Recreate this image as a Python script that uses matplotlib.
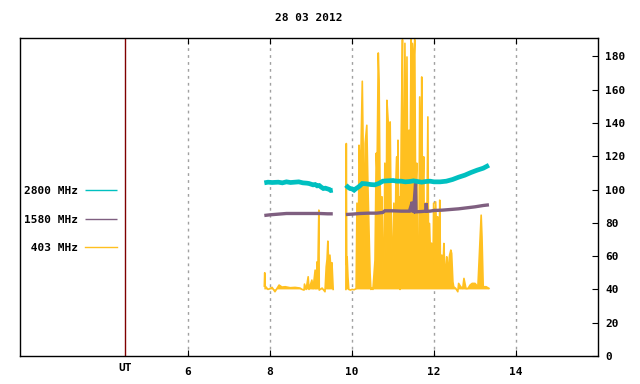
import matplotlib
matplotlib.use("Agg")
import matplotlib.pyplot as plt
import matplotlib.transforms as mtransforms
import numpy as np

# time in hours UT, nan marks the data gap
t_2800 = [7.86, 7.95, 8.05, 8.2, 8.3, 8.4, 8.5, 8.6, 8.7, 8.8, 8.9, 8.95, 9.05, 9.1, 9.15, 9.2, 9.25, 9.3, 9.35, 9.4, 9.45, 9.48, 9.53,
          9.7,
          9.85, 9.9, 9.95, 10.0, 10.05, 10.1, 10.15, 10.2, 10.25, 10.35, 10.45, 10.55, 10.65, 10.75, 10.85, 11.0, 11.1, 11.2,
          11.3, 11.4, 11.5, 11.6, 11.7, 11.8, 11.9, 12.0, 12.15, 12.3, 12.45, 12.6, 12.75, 12.9, 13.05, 13.2, 13.34]
v_2800 = [104.0, 104.4, 104.2, 104.4, 104.0, 104.6, 104.2, 104.4, 104.6, 104.0, 103.8, 103.6, 102.8, 103.0, 102.2, 102.4, 101.4, 100.6, 100.8, 100.4, 100.0, 99.4, 99.6,
          np.nan,
          102.6, 101.4, 100.6, 100.4, 99.6, 100.6, 101.4, 102.4, 103.6, 103.4, 103.0, 102.8, 103.6, 105.0, 105.2, 105.4, 105.0, 105.0,
          104.6, 104.8, 105.2, 104.8, 104.4, 104.8, 105.0, 104.6, 104.6, 105.0, 106.0, 107.4, 108.6, 110.2, 111.6, 112.8, 114.6]

t_1580 = [7.86, 8.0, 8.2, 8.4, 8.6, 8.8, 9.0, 9.2, 9.4, 9.53,
          9.7,
          9.85, 10.0, 10.2, 10.4, 10.6, 10.75, 10.8, 11.0, 11.2, 11.4, 11.47, 11.48, 11.5, 11.55, 11.56, 11.57, 11.7, 11.8, 11.81,
          11.82, 11.9, 12.0, 12.2, 12.4, 12.6, 12.8, 13.0, 13.2, 13.34]
v_1580 = [84.4, 84.8, 85.2, 85.6, 85.6, 85.6, 85.6, 85.6, 85.4, 85.4,
          np.nan,
          85.0, 85.2, 85.6, 85.8, 85.8, 86.2, 87.2, 87.2, 87.0, 87.0, 92.6, 87.0, 86.8, 103.8, 86.6, 86.6, 86.8, 87.0, 91.8,
          87.0, 87.0, 87.4, 87.6, 88.0, 88.4, 89.0, 89.6, 90.4, 90.8]

t_403 = [7.86, 7.87, 7.88, 7.95, 8.05, 8.12, 8.22, 8.29, 8.37, 8.49, 8.61, 8.73, 8.78, 8.83, 8.84, 8.88, 8.93, 8.95, 9.02, 9.05,
         9.1, 9.12, 9.15, 9.16, 9.19, 9.2, 9.27, 9.34, 9.37, 9.39, 9.41, 9.44, 9.46, 9.49, 9.51, 9.54,
         9.7,
         9.85, 9.86, 9.87, 9.88, 9.9, 9.92, 9.96, 10.0, 10.05, 10.1, 10.12, 10.15, 10.17, 10.2, 10.22, 10.25, 10.27, 10.29, 10.32,
         10.36, 10.39, 10.44, 10.46, 10.49, 10.51, 10.56, 10.59, 10.61, 10.64, 10.66, 10.68, 10.71, 10.73, 10.76, 10.78, 10.8,
         10.83, 10.85, 10.88, 10.9, 10.93, 10.95, 10.98, 11.0, 11.02, 11.05, 11.07, 11.09, 11.1, 11.12, 11.14, 11.15, 11.17,
         11.2, 11.23, 11.24, 11.27, 11.29, 11.32, 11.34, 11.37, 11.39, 11.41, 11.44, 11.46, 11.47, 11.5, 11.53, 11.55, 11.58,
         11.6, 11.63, 11.65, 11.68, 11.7, 11.72, 11.75, 11.77, 11.8, 11.82, 11.85, 11.87, 11.89, 11.92, 11.94, 11.97, 11.99,
         12.02, 12.04, 12.07, 12.09, 12.12, 12.14, 12.16, 12.19, 12.21, 12.24, 12.26, 12.29, 12.31, 12.33, 12.36, 12.38, 12.41,
         12.43, 12.46, 12.48, 12.53, 12.58, 12.6, 12.65, 12.7, 12.73, 12.78, 12.83, 12.88, 12.93, 13.0, 13.07, 13.15, 13.17,
         13.2, 13.27, 13.34]
v_403 = [42.0, 50.0, 42.0, 40.0, 41.2, 38.6, 42.6, 41.4, 41.6, 41.0, 41.2, 40.8, 40.0, 39.6, 43.2, 40.0, 47.6, 40.0, 45.6, 40.5,
         51.6, 40.5, 56.6, 41.0, 87.6, 39.6, 40.8, 38.6, 53.6, 58.0, 69.0, 48.6, 60.6, 50.6, 56.0, 40.0,
         np.nan,
         40.0, 127.6, 54.6, 59.6, 47.6, 40.0, 39.6, 40.0, 39.8, 40.5, 91.8, 45.0, 126.6, 110.0, 126.0, 165.0, 127.8, 60.0, 127.8,
         138.6, 99.6, 49.8, 40.0, 41.0, 40.0, 57.6, 121.8, 110.0, 182.0, 165.6, 109.8, 75.6, 95.6, 42.0, 57.6, 115.8,
         60.0, 153.6, 141.6, 131.6, 140.6, 91.8, 57.6, 55.8, 91.8, 59.6, 105.6, 119.6, 71.6, 129.6, 83.6, 95.6, 40.0,
         133.6, 190.0, 145.8, 101.6, 187.8, 83.6, 179.6, 43.8, 135.6, 91.8, 190.0, 127.8, 187.8, 171.6, 190.0, 99.6, 115.8,
         41.6, 59.6, 155.6, 99.6, 167.6, 91.8, 119.6, 47.6, 91.8, 65.6, 143.6, 47.6, 79.6, 55.8, 67.8, 41.6, 91.8,
         55.8, 92.6, 67.8, 83.6, 51.6, 93.6, 47.6, 60.6, 45.6, 67.6, 53.6, 51.6, 59.6, 49.8, 55.6, 60.6, 63.6,
         61.6, 44.6, 41.6, 40.6, 38.6, 43.6, 41.6, 40.6, 46.6, 40.5, 40.6, 42.6, 43.6, 43.6, 41.6, 84.6, 71.6,
         41.6, 41.6, 40.6]
base_403 = 40.0

hour_ticks = [6, 8, 10, 12, 14]
y_ticks = [0, 20, 40, 60, 80, 100, 120, 140, 160, 180]
ut_pos = 4.46

plt.rcParams['font.family'] = ['DejaVu Sans Mono']
plt.rcParams['font.weight'] = 'bold'
plt.rcParams['font.size'] = 8

fig = plt.figure(figsize=(6.4, 3.84), dpi=100)
ax = fig.add_axes([20 / 640, 1 - 356 / 384, 578 / 640, 318 / 384])

# dense sampling in the original shows up as solid yellow under the spikes
t403 = np.array(t_403)
v403 = np.array(v_403)
ok = np.isfinite(v403)
ax.fill_between(t403, base_403, np.where(ok, v403, base_403), where=ok,
                color='#ffc020', lw=0, zorder=2)
l403, = ax.plot(t_403, v_403, color='#ffc020', lw=1.2, zorder=2)
l1580, = ax.plot(t_1580, v_1580, color='#7f5f80', lw=2.4, zorder=3,
                 solid_joinstyle='miter', solid_capstyle='butt')
l2800, = ax.plot(t_2800, v_2800, color='#00c0c0', lw=3.4, zorder=4,
                 solid_joinstyle='miter', solid_capstyle='butt')

ax.set_xlim(1.9, 16)
ax.set_ylim(0, 191)
for h in hour_ticks:
    ax.axvline(h, color='#a0a0a0', lw=1, ls=(0, (2, 3)), zorder=1)
ax.axvline(ut_pos, color='#800000', lw=1, zorder=1)

ax.set_xticks(hour_ticks)
ax.set_xticklabels([str(h) for h in hour_ticks])
ax.tick_params(axis='x', direction='in', length=4, top=True, pad=8)
ax.yaxis.tick_right()
ax.set_yticks(y_ticks)
ax.set_yticklabels([str(v) for v in y_ticks])
ax.tick_params(axis='y', direction='in', length=4, pad=5, left=False)
for s in ax.spines.values():
    s.set_linewidth(1)

trans = mtransforms.blended_transform_factory(ax.transData, ax.transAxes)
ax.text(ut_pos, -0.022, 'UT', transform=trans, ha='center', va='top')

ax.set_title('28 03 2012', pad=12, fontsize=8, fontweight='bold')

leg = fig.legend([l2800, l1580, l403], ['2800 MHz', '1580 MHz', ' 403 MHz'],
                 loc='upper left', bbox_to_anchor=(24 / 640, 1 - 186 / 384),
                 frameon=False, markerfirst=False, handlelength=2.9, handletextpad=0.6,
                 labelspacing=1.68, borderpad=0, borderaxespad=0)
for h in leg.legend_handles:
    h.set_linewidth(1)

fig.savefig('out.png', dpi=100)
